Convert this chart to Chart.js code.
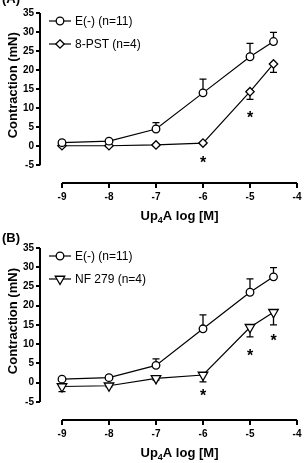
<!DOCTYPE html>
<html><head><meta charset="utf-8">
<script src="https://cdn.jsdelivr.net/npm/chart.js@4"></script>
<style>
html,body{margin:0;padding:0;background:#fff;width:306px;height:463px;overflow:hidden}
canvas{position:absolute;left:0}
#cA{top:0}#cB{top:228px}
</style></head><body>
<canvas id="cA" width="306" height="228"></canvas>
<canvas id="cB" width="306" height="235"></canvas>
<script>
// ---- data ----
const doses = [-9, -8, -7, -6, -5, -4.5];
const xTicks = [-9, -8, -7, -6, -5, -4];
const yTicks = [-5, 0, 5, 10, 15, 20, 25, 30, 35];
const ctrlMean = [0.9, 1.3, 4.5, 14.0, 23.5, 27.5];
const ctrlSem  = [0.4, 0.4, 1.7, 3.6, 3.5, 2.4];
const pstMean  = [0.1, 0.1, 0.3, 0.8, 14.3, 21.6];
const pstSem   = [0.2, 0.2, 0.2, 0.2, 2.0, 2.2];
const nfMean   = [-1.0, -0.8, 1.1, 2.0, 14.4, 18.3];
const nfSem    = [1.3, 0.3, 0.4, 1.8, 2.5, 3.3];
const starsA = [[-6, -3.5], [-5, 8.4]];
const starsB = [[-6, -2.7], [-5, 7.9], [-4.5, 11.6]];
const ctrlLabel = 'E(-) (n=11)';
const pstLabel = '8-PST (n=4)';
const nfLabel = 'NF 279 (n=4)';

const FAM = '"Liberation Sans", Arial, Helvetica, sans-serif';

function drawMarker(ctx, style, x, y, r) {
  ctx.save();
  ctx.fillStyle = '#fff'; ctx.strokeStyle = '#000'; ctx.lineWidth = 1.3;
  ctx.beginPath();
  if (style === 'circle') {
    ctx.arc(x, y, r, 0, Math.PI * 2);
  } else if (style === 'rectRot') {
    ctx.moveTo(x, y - r); ctx.lineTo(x + r, y); ctx.lineTo(x, y + r); ctx.lineTo(x - r, y); ctx.closePath();
  } else {
    const s3 = Math.sqrt(3) / 2;
    ctx.moveTo(x - r * s3, y - r / 2); ctx.lineTo(x + r * s3, y - r / 2); ctx.lineTo(x, y + r); ctx.closePath();
  }
  ctx.fill(); ctx.stroke();
  ctx.restore();
}

function makeChart(id, padTop, xHeight, label, series, stars) {
  const datasets = series.map(s => ({
    label: s.label,
    data: doses.map((d, i) => ({ x: d, y: s.mean[i] })),
    borderColor: '#000', borderWidth: 1.2,
    pointStyle: s.style, pointRotation: s.style === 'triangle' ? 180 : 0,
    pointRadius: s.r, pointBorderWidth: 1.3,
    pointBackgroundColor: '#fff', pointBorderColor: '#000',
    tension: 0
  }));
  const plugin = {
    id: 'decor',
    beforeDatasetsDraw(chart) {
      const ctx = chart.ctx, xs = chart.scales.x, ys = chart.scales.y;
      ctx.save(); ctx.strokeStyle = '#000'; ctx.lineWidth = 1.3;
      series.forEach(s => {
        doses.forEach((d, i) => {
          const px = xs.getPixelForValue(d);
          const y0 = ys.getPixelForValue(s.mean[i]);
          const y1 = ys.getPixelForValue(s.mean[i] + s.dir * s.sem[i]);
          ctx.beginPath();
          ctx.moveTo(px, y0); ctx.lineTo(px, y1);
          ctx.moveTo(px - 3.5, y1); ctx.lineTo(px + 3.5, y1);
          ctx.stroke();
        });
      });
      ctx.restore();
    },
    afterDraw(chart) {
      const ctx = chart.ctx, xs = chart.scales.x, ys = chart.scales.y, ca = chart.chartArea;
      ctx.save();
      // axis lines
      ctx.strokeStyle = '#000'; ctx.lineWidth = 2;
      ctx.beginPath();
      ctx.moveTo(ca.left, ys.getPixelForValue(yTicks[0]));
      ctx.lineTo(ca.left, ys.getPixelForValue(yTicks[yTicks.length - 1]));
      ctx.stroke();
      ctx.beginPath();
      ctx.moveTo(xs.getPixelForValue(xTicks[0]), ca.bottom);
      ctx.lineTo(xs.getPixelForValue(xTicks[xTicks.length - 1]), ca.bottom);
      ctx.stroke();
      // asterisks
      ctx.fillStyle = '#000';
      ctx.font = 'bold 16px ' + FAM;
      ctx.textAlign = 'center'; ctx.textBaseline = 'middle';
      stars.forEach(([sx, sy]) => {
        ctx.fillText('*', xs.getPixelForValue(sx), ys.getPixelForValue(sy) + 4);
      });
      // legend
      ctx.font = '12px ' + FAM;
      ctx.textAlign = 'left';
      series.forEach((s, k) => {
        const ly = ca.top + 8 + k * 23;
        ctx.strokeStyle = '#000'; ctx.lineWidth = 1.2;
        ctx.beginPath(); ctx.moveTo(49, ly); ctx.lineTo(71, ly); ctx.stroke();
        drawMarker(ctx, s.style, 60, ly, s.r);
        ctx.fillStyle = '#000';
        ctx.fillText(s.label, 75, ly + 1);
      });
      // y title
      ctx.save();
      ctx.font = 'bold 13px ' + FAM;
      ctx.translate(13, ys.getPixelForValue(16));
      ctx.rotate(-Math.PI / 2);
      ctx.textAlign = 'center'; ctx.textBaseline = 'middle';
      ctx.fillText('Contraction (mN)', 0, 0);
      ctx.restore();
      // x title with subscript
      const big = 'bold 13px ' + FAM, small = 'bold 9px ' + FAM;
      ctx.textBaseline = 'alphabetic'; ctx.textAlign = 'left';
      ctx.font = big; const w1 = ctx.measureText('Up').width, w3 = ctx.measureText('A log [M]').width;
      ctx.font = small; const w2 = ctx.measureText('4').width;
      const cx = (xs.getPixelForValue(xTicks[0]) + xs.getPixelForValue(xTicks[xTicks.length - 1])) / 2;
      let tx = cx - (w1 + w2 + w3) / 2;
      const by = ca.bottom + 37;
      ctx.font = big; ctx.fillText('Up', tx, by); tx += w1;
      ctx.font = small; ctx.fillText('4', tx, by + 3); tx += w2;
      ctx.font = big; ctx.fillText('A log [M]', tx, by);
      // panel label
      ctx.font = 'bold 13px ' + FAM;
      ctx.fillText(label.text, 2, label.y);
      ctx.restore();
    }
  };
  return new Chart(document.getElementById(id), {
    type: 'line',
    data: { datasets },
    plugins: [plugin],
    options: {
      responsive: false, animation: false, devicePixelRatio: 1,
      layout: { padding: { top: padTop, right: 9, left: 0, bottom: 0 } },
      plugins: { legend: { display: false }, tooltip: { enabled: false } },
      scales: {
        x: {
          type: 'linear', min: -9.468, max: -4,
          afterBuildTicks: sc => { sc.ticks = xTicks.map(v => ({ value: v })); },
          afterFit: sc => { sc.height = xHeight; },
          border: { display: false },
          grid: { drawOnChartArea: false, drawTicks: true, tickLength: 5, color: '#000', lineWidth: 2 },
          ticks: { color: '#000', font: { family: FAM, size: 10, weight: 'bold' }, padding: 3, maxRotation: 0, autoSkip: false }
        },
        y: {
          type: 'linear', min: -9.7, max: 35,
          afterBuildTicks: sc => { sc.ticks = yTicks.map(v => ({ value: v })); },
          afterFit: sc => { sc.width = 40; },
          border: { display: false },
          grid: { drawOnChartArea: false, drawTicks: true, tickLength: 4, color: '#000', lineWidth: 2 },
          ticks: { color: '#000', font: { family: FAM, size: 10, weight: 'bold' }, padding: 2, autoSkip: false }
        }
      }
    }
  });
}

makeChart('cA', 13, 45, { text: '(A)', y: 3 }, [
  { label: ctrlLabel, mean: ctrlMean, sem: ctrlSem, dir: 1, style: 'circle', r: 3.8 },
  { label: pstLabel, mean: pstMean, sem: pstSem, dir: -1, style: 'rectRot', r: 4.2 }
], starsA);
makeChart('cB', 20, 43, { text: '(B)', y: 14 }, [
  { label: ctrlLabel, mean: ctrlMean, sem: ctrlSem, dir: 1, style: 'circle', r: 3.8 },
  { label: nfLabel, mean: nfMean, sem: nfSem, dir: -1, style: 'triangle', r: 5.5 }
], starsB);
</script>
</body></html>
